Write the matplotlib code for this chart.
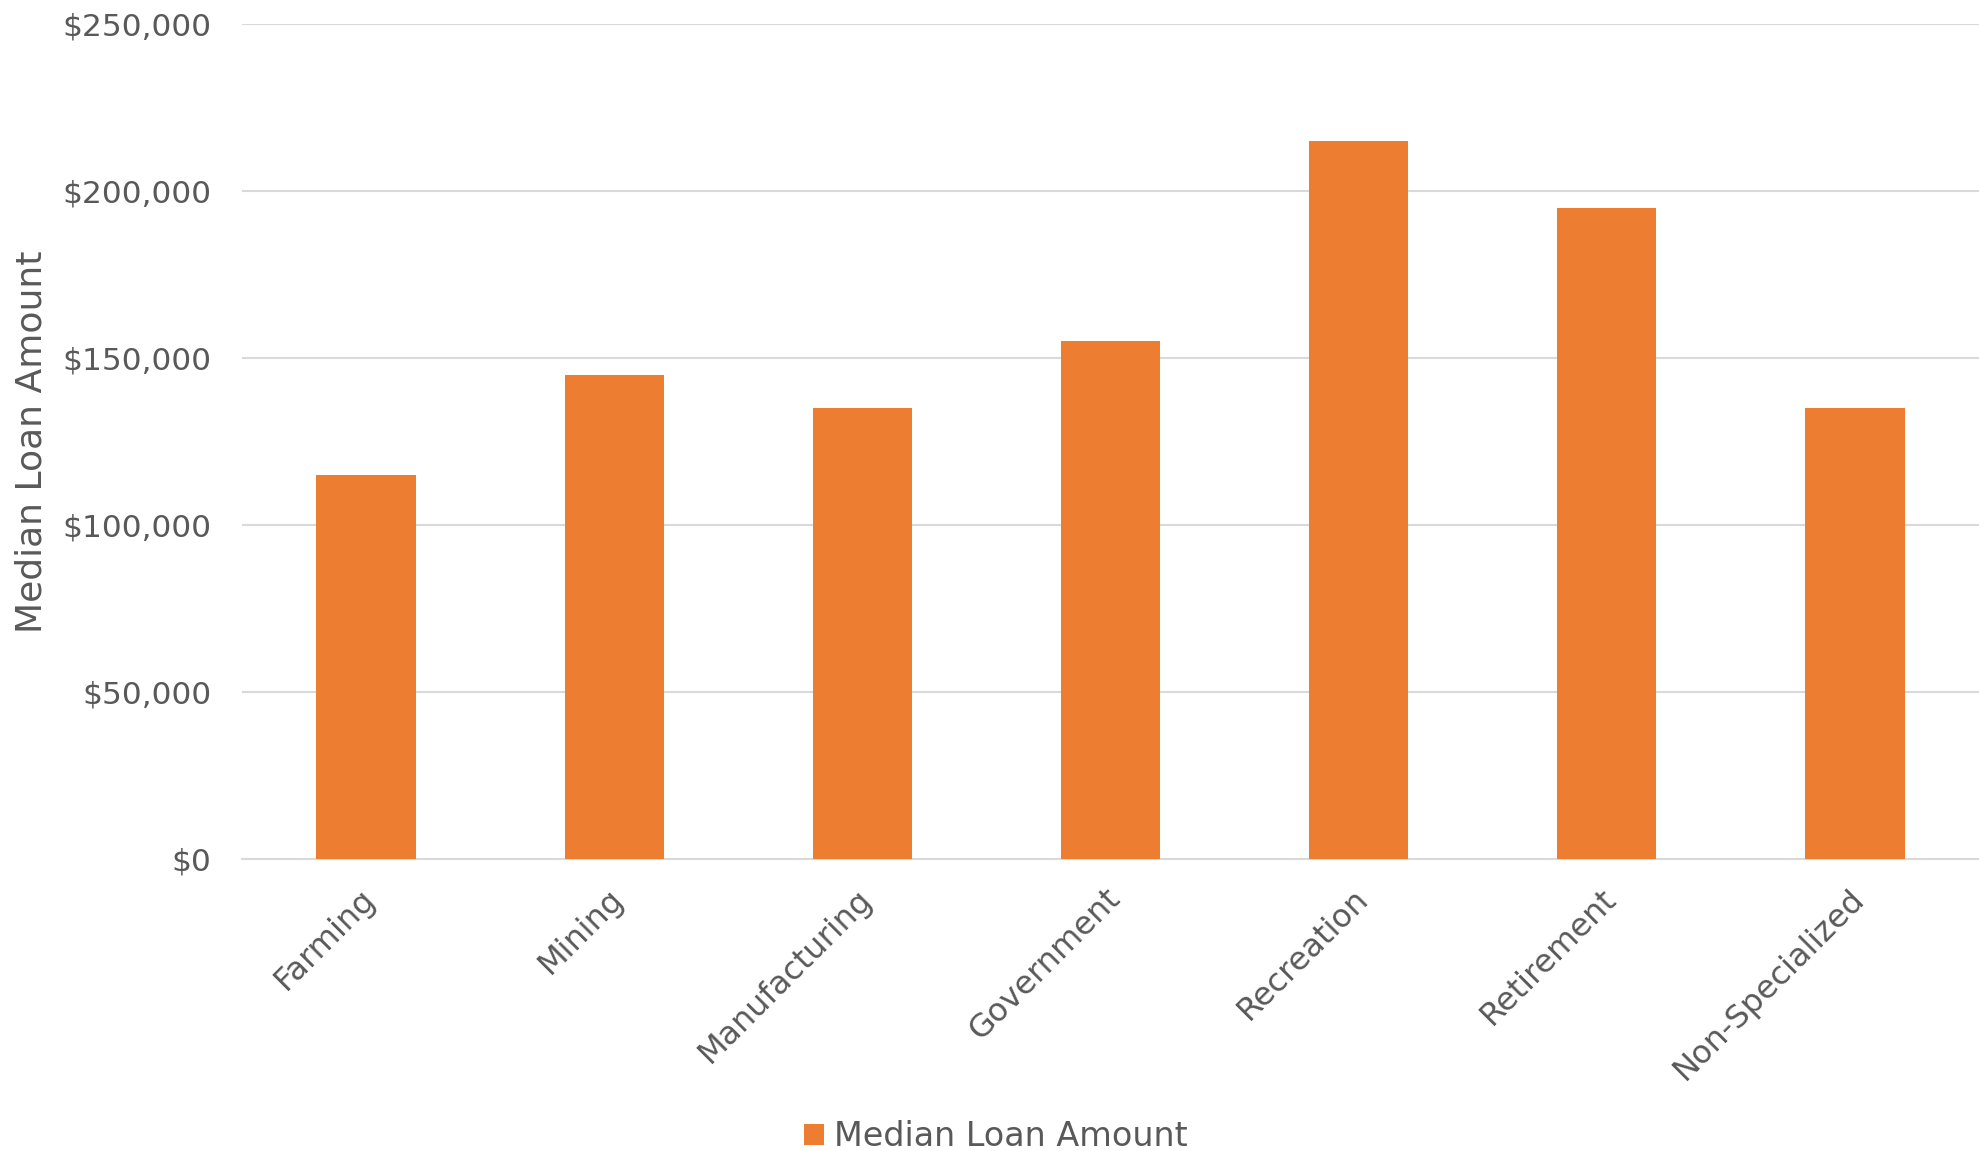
import matplotlib
matplotlib.use("Agg")
import matplotlib.pyplot as plt
import matplotlib.transforms as mtransforms
from matplotlib.ticker import FuncFormatter
from matplotlib.patches import Patch

categories = ["Farming", "Mining", "Manufacturing", "Government", "Recreation", "Retirement", "Non-Specialized"]
median_loan = [115000, 145000, 135000, 155000, 215000, 195000, 135000]
series_name = "Median Loan Amount"
y_ticks = [0, 50000, 100000, 150000, 200000, 250000]

bar_color = "#ED7D31"
text_color = "#595959"
grid_color = "#D9D9D9"

plt.rcParams['font.family'] = ['DejaVu Sans']

fig = plt.figure(figsize=(19.79, 11.51), dpi=100)
ax = fig.add_axes([0.1223, 0.2534, 0.8777, 0.726])

x = list(range(len(categories)))
ax.bar(x, median_loan, width=0.4, color=bar_color, zorder=3)

ax.set_xlim(-0.5, len(categories) - 0.5)
ax.set_ylim(0, 250000)
ax.set_yticks(y_ticks)
ax.yaxis.set_major_formatter(FuncFormatter(lambda v, p: "${:,.0f}".format(v)))
ax.grid(axis='y', color=grid_color, linewidth=1.5, zorder=0)
for s in ["top", "right", "left"]:
    ax.spines[s].set_visible(False)
ax.spines["bottom"].set_color(grid_color)
ax.spines["bottom"].set_linewidth(1.5)

ax.tick_params(axis='y', length=0, pad=22, labelsize=22.5, labelcolor=text_color)
ax.tick_params(axis='x', length=0, pad=15, labelsize=23, labelcolor=text_color)
ax.set_xticks(x)
ax.set_xticklabels(categories, rotation=45, ha='right', rotation_mode='anchor')
offset = mtransforms.ScaledTranslation(-6 / 100, -3 / 100, fig.dpi_scale_trans)
for lab in ax.get_xticklabels():
    lab.set_transform(lab.get_transform() + offset)

ax.set_ylabel(series_name, fontsize=26, color=text_color)
ax.yaxis.set_label_coords(-0.1115, 0.5)

handle = Patch(facecolor=bar_color, edgecolor='none')
fig.legend([handle], [series_name], loc='center', bbox_to_anchor=(0.503, 0.0125),
           frameon=False, fontsize=24, labelcolor=text_color,
           handlelength=0.6, handleheight=0.6, handletextpad=0.3)

fig.savefig("out.png", dpi=100, facecolor="white")
